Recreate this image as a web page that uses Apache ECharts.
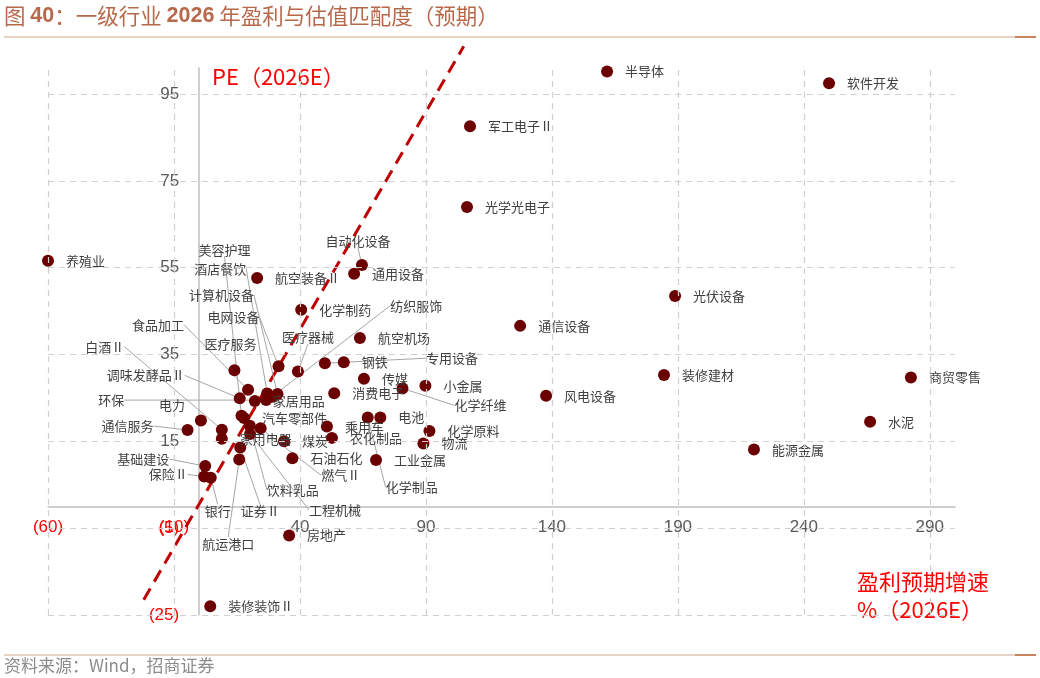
<!DOCTYPE html>
<html>
<head>
<meta charset="utf-8">
<script src="https://cdn.jsdelivr.net/npm/echarts@6/dist/echarts.min.js"></script>
<style>
html, body { margin: 0; padding: 0; background: #fff; }
#main { width: 1040px; height: 678px; }
</style>
</head>
<body>
<div id="main"></div>
<script>
// 行业名称
var names = ['养殖业', '半导体', '软件开发', '军工电子Ⅱ', '光学光电子', '自动化设备', '通用设备', '航空装备Ⅱ', '化学制药', '光伏设备',
    '通信设备', '航空机场', '医疗器械', '医疗服务', '专用设备', '钢铁', '传媒', '小金属', '化学纤维', '消费电子',
    '装修建材', '商贸零售', '风电设备', '水泥', '能源金属', '化学制品', '电池', '乘用车', '农化制品', '煤炭',
    '石油石化', '化学原料', '物流', '工业金属', '房地产', '装修装饰Ⅱ', '电网设备', '食品加工', '调味发酵品Ⅱ', '家居用品',
    '酒店餐饮', '环保', '计算机设备', '美容护理', '汽车零部件', '饮料乳品', '燃气Ⅱ', '工程机械', '白酒Ⅱ', '家用电器',
    '电力', '证券Ⅱ', '航运港口', '基础建设', '保险Ⅱ', '银行', '通信服务', '纺织服饰'];
// 盈利预期增速 %（2026E）
var growth = [-60, 161.9, 250.0, 107.5, 106.3, 64.6, 61.5, 23.0, 40.5, 188.9,
    127.4, 63.8, 39.2, 14.0, 49.9, 57.4, 65.4, 89.8, 80.7, 53.6,
    184.5, 282.5, 137.7, 266.3, 220.2, 66.9, 71.9, 50.7, 52.7, 33.7,
    37.0, 91.4, 89.0, 70.2, 35.7, 4.4, 31.5, 19.4, 16.1, 22.1,
    27.0, 26.6, 31.1, 16.8, 17.8, 20.1, 24.4, 20.2, 9.0, 9.0,
    0.7, 16.3, 15.9, 2.4, 2.0, 4.6, -4.6, 29.0];
// PE（2026E）
var pe = [56.6, 100.2, 97.5, 87.6, 69.0, 55.6, 53.6, 52.6, 45.3, 48.5,
    41.6, 38.8, 31.1, 31.4, 33.0, 33.2, 29.4, 27.8, 27.2, 26.1,
    30.3, 29.7, 25.5, 19.5, 13.1, 20.5, 20.5, 18.4, 15.8, 15.0,
    11.1, 17.4, 14.5, 10.7, -6.7, -23.0, 32.3, 26.9, 24.9, 24.3,
    26.0, 24.5, 25.9, 20.9, 20.4, 18.6, 18.0, 16.7, 17.7, 15.6,
    19.8, 13.6, 10.8, 9.3, 6.9, 6.6, 17.6, 25.3];

var xTicks = [-60, -10, 40, 90, 140, 190, 240, 290];
var yTicks = [-25, -5, 15, 35, 55, 75, 95];

// PEG=1 虚线两端
var pegX = [-22, 105];
var pegY = [-21.5, 106];

// 标签挪开的位置（相对点的像素偏移）
var labelMoves = {
    '美容护理': [-17, -166], '酒店餐饮': [-47, -125], '计算机设备': [-56, -99], '电网设备': [-45, -49],
    '食品加工': [-90, -65], '白酒Ⅱ': [-117, -83], '调味发酵品Ⅱ': [-94, -23], '环保': [-155, 0],
    '电力': [-29, -15], '通信服务': [-60, -4], '基础建设': [-62, -7], '保险Ⅱ': [-36, -2],
    '银行': [7, 33], '证券Ⅱ': [20, 64], '航运港口': [-11, 84], '饮料乳品': [43, 64],
    '工程机械': [85, 76], '燃气Ⅱ': [80, 47], '纺织服饰': [144, -91], '医疗服务': [-4, -26],
    '医疗器械': [10, -34], '自动化设备': [-4, -24], '专用设备': [127, -5], '化学纤维': [78, 17],
    '化学制品': [44, 70]
};
var noLine = ['电力', '医疗服务'];

var RED = '#ff0000';
var GRAY = '#595959';

// 网格和坐标轴范围
var G = { left: 48, right: 85, top: 68, bottom: 63 };
var X_MIN = -60, X_MAX = 300, Y_MIN = -25, Y_MAX = 101;
var gridW = 1040 - G.left - G.right;
var gridH = 678 - G.top - G.bottom;
// 坐标轴和刻度标签都画在 0 处
var yAxisOffset = -(0 - X_MIN) / (X_MAX - X_MIN) * gridW;
var xAxisOffset = -(0 - Y_MIN) / (Y_MAX - Y_MIN) * gridH;

var pointData = names.map(function (n, i) {
    var item = { name: n, value: [growth[i], pe[i]] };
    if (labelMoves[n] && noLine.indexOf(n) < 0) {
        item.labelLine = { show: true };
    }
    return item;
});

var pegData = pegX.map(function (x, i) { return [x, pegY[i]]; });

var gridLines = xTicks.map(function (v) { return { xAxis: v }; })
    .concat(yTicks.map(function (v) { return { yAxis: v }; }));

function tickFmt(v) {
    if (v < 0) return '{neg|(' + Math.abs(v) + ')}';
    return '{pos|' + v + '}';
}
var tickRich = {
    neg: { color: RED, fontSize: 17, fontFamily: 'Liberation Sans, Arial' },
    pos: { color: GRAY, fontSize: 17, fontFamily: 'Liberation Sans, Arial' }
};

var option = {
    backgroundColor: '#fff',
    animation: false,
    grid: G,
    xAxis: {
        type: 'value',
        min: X_MIN,
        max: X_MAX,
        interval: 50,
        offset: xAxisOffset,
        axisLine: { onZero: false, lineStyle: { color: '#bfbfbf', width: 1.5 } },
        axisTick: { show: false },
        splitLine: { show: false },
        axisLabel: { margin: 12, showMaxLabel: false, formatter: tickFmt, rich: tickRich }
    },
    yAxis: {
        type: 'value',
        min: Y_MIN,
        max: Y_MAX,
        interval: 20,
        offset: yAxisOffset,
        axisLine: { onZero: false, lineStyle: { color: '#bfbfbf', width: 1.5 } },
        axisTick: { show: false },
        splitLine: { show: false },
        axisLabel: { margin: 20, showMaxLabel: false, formatter: tickFmt, rich: tickRich }
    },
    graphic: [
        {
            type: 'text', left: 4, top: 5,
            style: {
                text: '图 {b|40}：一级行业 {b|2026} 年盈利与估值匹配度（预期）',
                fill: '#b9694b',
                font: '21.5px "Noto Sans CJK SC"',
                rich: { b: { fontWeight: 'bold', fontSize: 21.5, fill: '#b9694b', fontFamily: 'Liberation Sans' } }
            }
        },
        { type: 'line', shape: { x1: 4, y1: 37, x2: 1036, y2: 37 }, style: { stroke: '#cfa58e', lineWidth: 1 } },
        { type: 'line', shape: { x1: 1015, y1: 37, x2: 1036, y2: 37 }, style: { stroke: '#c8835f', lineWidth: 2 } },
        { type: 'line', shape: { x1: 4, y1: 655, x2: 1036, y2: 655 }, style: { stroke: '#cfa58e', lineWidth: 1 } },
        { type: 'line', shape: { x1: 1015, y1: 655, x2: 1036, y2: 655 }, style: { stroke: '#c8835f', lineWidth: 2 } },
        {
            type: 'text', left: 4, top: 657,
            style: { text: '资料来源：Wind，招商证券', fill: '#8c8c8c', font: '17px "Noto Sans CJK SC"' }
        },
        {
            type: 'text', left: 212, top: 66,
            style: { text: 'PE（2026E）', fill: RED, font: '22px "Noto Sans CJK SC"' }
        },
        {
            type: 'text', left: 857, top: 571,
            style: { text: '盈利预期增速', fill: RED, font: '22px "Noto Sans CJK SC"' }
        },
        {
            type: 'text', left: 857, top: 599,
            style: { text: '%（2026E）', fill: RED, font: '22px "Noto Sans CJK SC"' }
        }
    ],
    series: [
        {
            // 网格虚线
            type: 'scatter',
            data: [],
            silent: true,
            z: 1,
            markLine: {
                silent: true,
                symbol: 'none',
                label: { show: false },
                lineStyle: { color: '#d0d0d0', type: [6, 5], width: 1.2 },
                data: gridLines
            }
        },
        {
            type: 'line',
            data: pegData,
            clip: false,
            symbol: 'none',
            z: 3,
            lineStyle: { color: '#c00000', width: 3, type: [13, 8] }
        },
        {
            type: 'scatter',
            data: pointData,
            clip: false,
            symbolSize: 12,
            z: 4,
            itemStyle: { color: '#6b0000', opacity: 1 },
            label: {
                show: true,
                position: 'right',
                distance: 12,
                formatter: '{b}',
                color: '#404040',
                fontSize: 13,
                fontFamily: 'Noto Sans CJK SC'
            },
            labelLine: {
                show: false,
                lineStyle: { color: '#a6a6a6', width: 1 }
            },
            labelLayout: function (p) {
                var mv = labelMoves[names[p.dataIndex]];
                if (!mv) return;
                return {
                    x: p.rect.x + p.rect.width / 2 + mv[0],
                    y: p.rect.y + p.rect.height / 2 + mv[1],
                    align: 'center',
                    verticalAlign: 'middle'
                };
            }
        }
    ]
};

var myChart = echarts.init(document.getElementById('main'));
myChart.setOption(option);
</script>
</body>
</html>
